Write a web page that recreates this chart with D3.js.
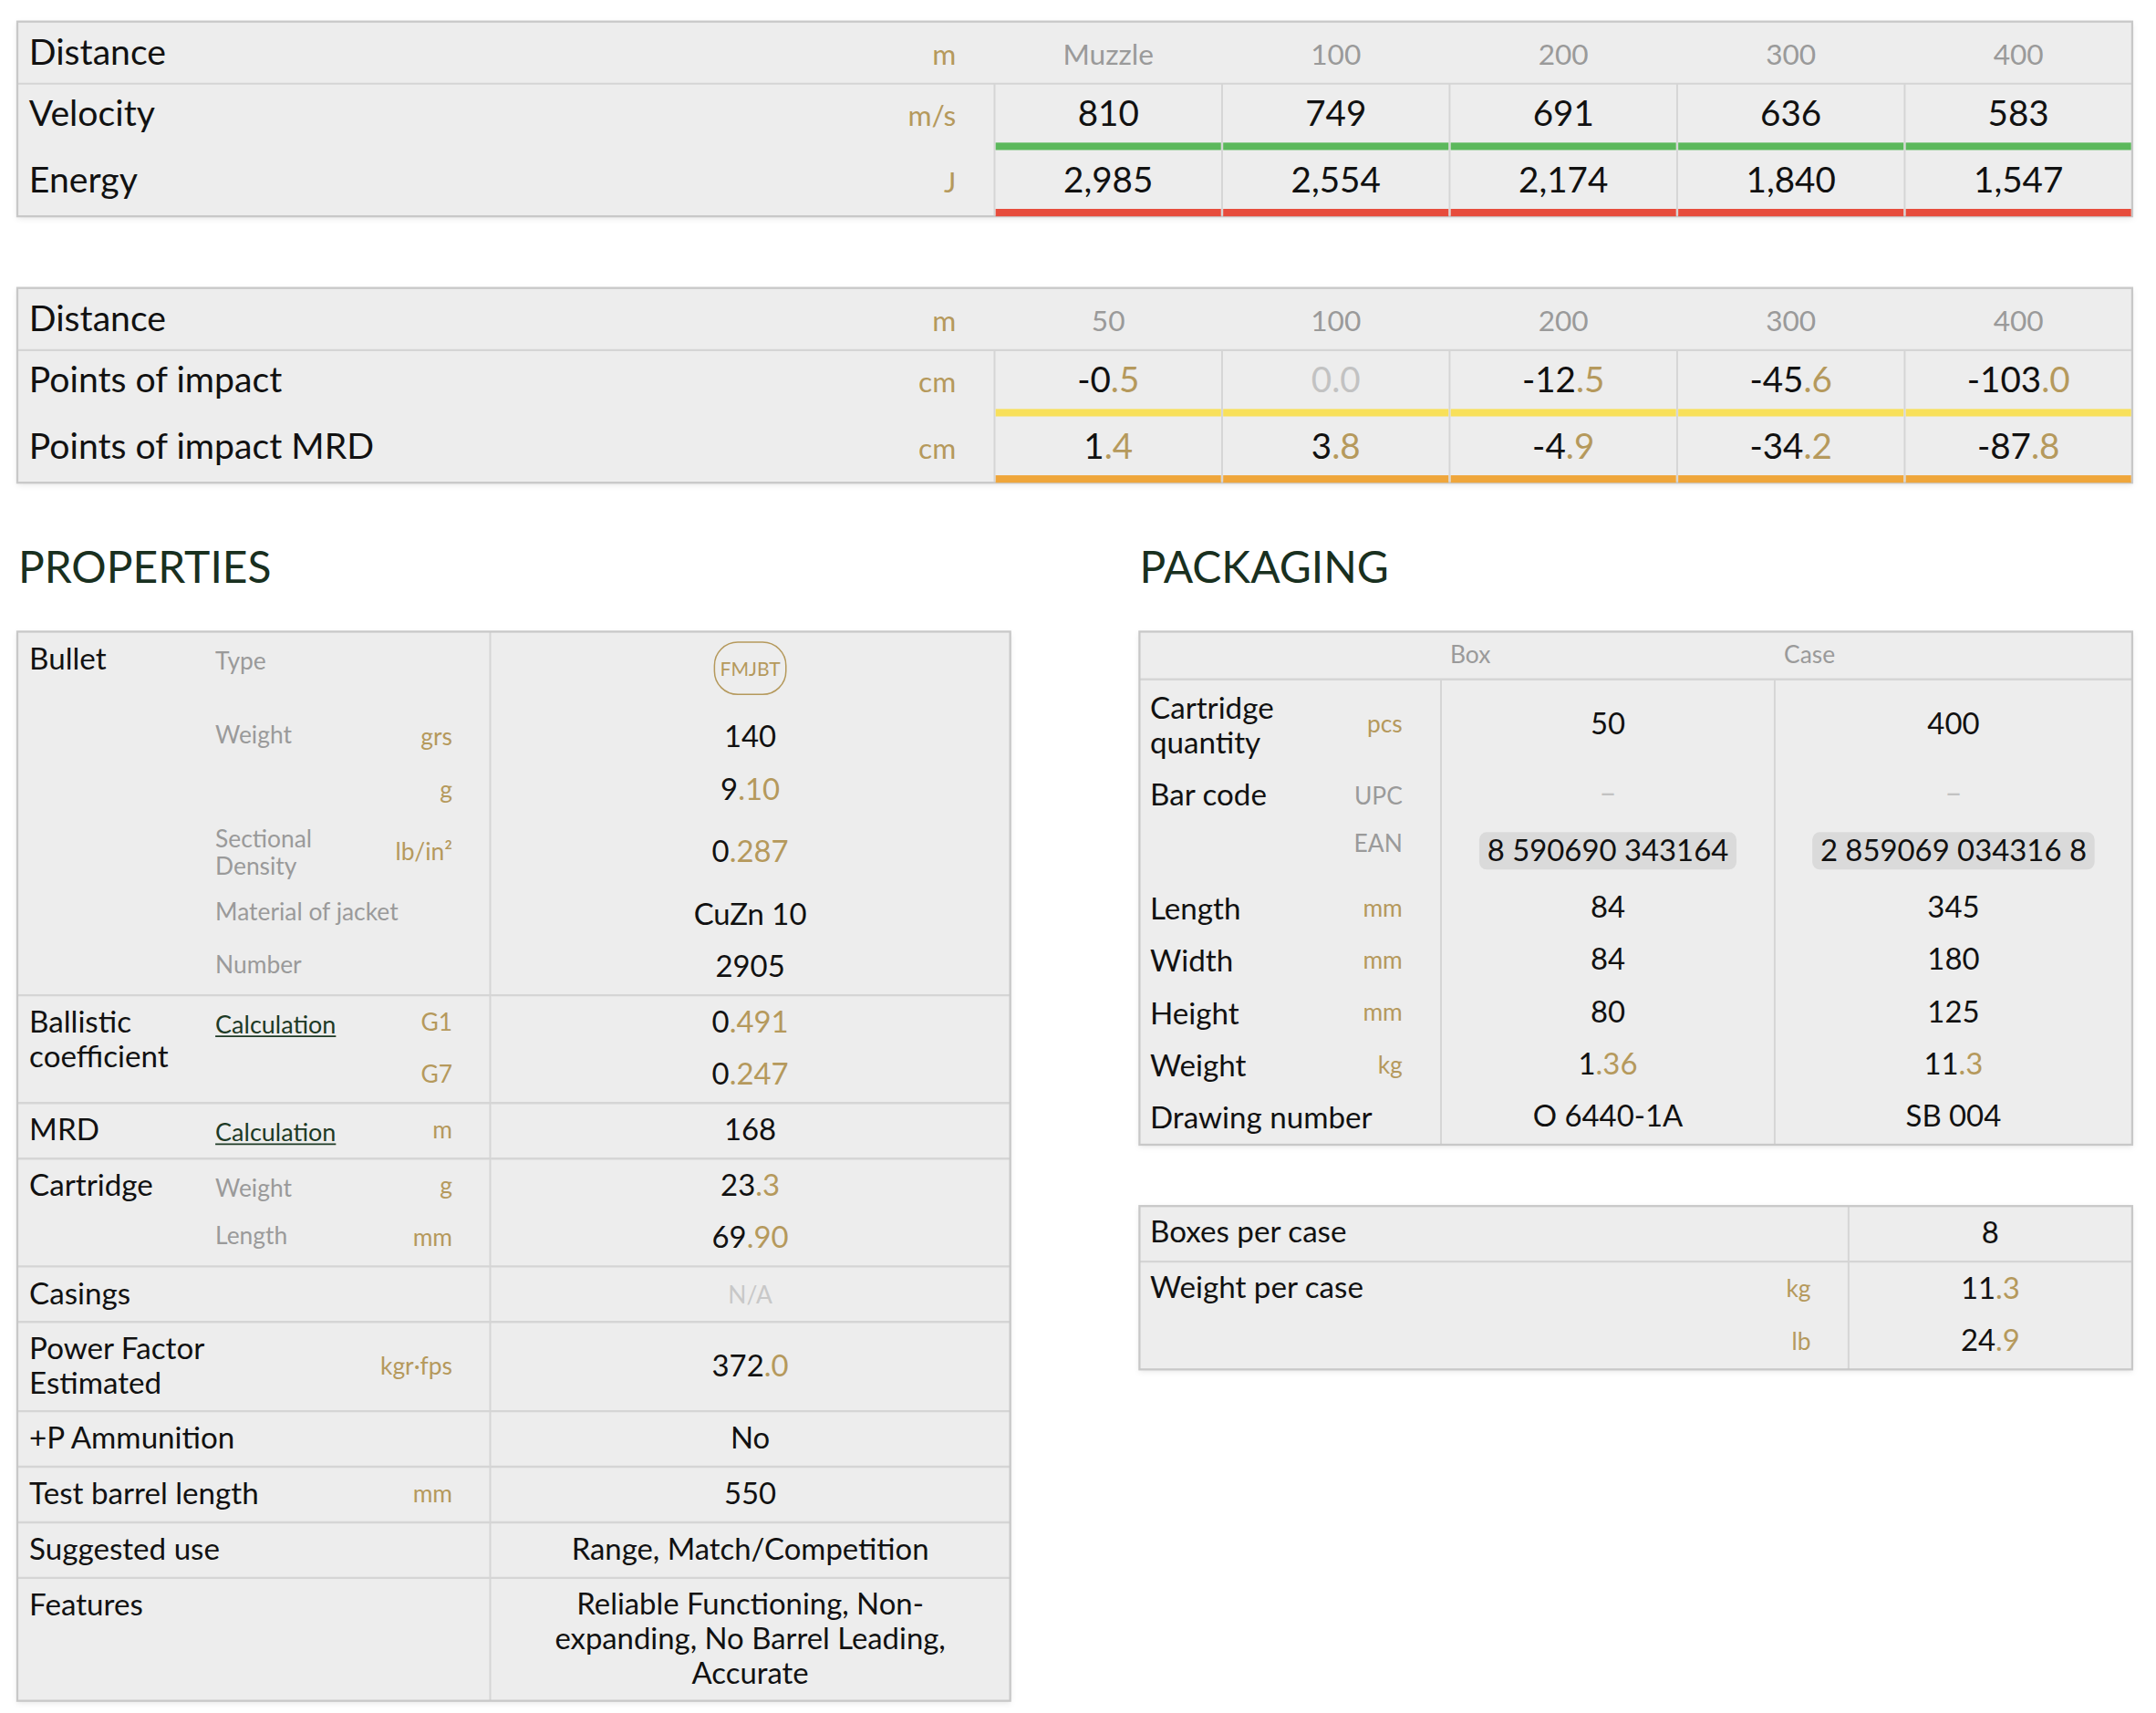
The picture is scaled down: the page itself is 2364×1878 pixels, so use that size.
<!DOCTYPE html>
<html><head><meta charset="utf-8">
<script src="https://cdn.jsdelivr.net/npm/d3@7"></script>
<style>
html,body{margin:0;padding:0;background:#fff;}
svg{display:block;}
text{font-family:Lato,"Open Sans",sans-serif;}
</style>
</head><body>
<script>
// ---------------- DATA ----------------
const ballisticHeader = ["Muzzle","100","200","300","400"];
const velocityValues = [810,749,691,636,583];
const energyValues = [2985,2554,2174,1840,1547];
const impactHeader = ["50","100","200","300","400"];
const impactValues = [-0.5,0.0,-12.5,-45.6,-103.0];
const impactMRDValues = [1.4,3.8,-4.9,-34.2,-87.8];

const propertyGroups = [["Bullet"],["Ballistic","coefficient"],["MRD"],["Cartridge"],["Casings"],["Power Factor","Estimated"],["+P Ammunition"],["Test barrel length"],["Suggested use"],["Features"]];
// [group, sub-label lines, unit, value lines]
const propertyItems = [
  [0,["Type"],"",["FMJBT"]],
  [0,["Weight"],"grs",["140"]],
  [0,[],"g",["9.10"]],
  [0,["Sectional","Density"],"lb/in²",["0.287"]],
  [0,["Material of jacket"],"",["CuZn 10"]],
  [0,["Number"],"",["2905"]],
  [1,["Calculation"],"G1",["0.491"]],
  [1,[],"G7",["0.247"]],
  [2,["Calculation"],"m",["168"]],
  [3,["Weight"],"g",["23.3"]],
  [3,["Length"],"mm",["69.90"]],
  [4,[],"",["N/A"]],
  [5,[],"kgr·fps",["372.0"]],
  [6,[],"",["No"]],
  [7,[],"mm",["550"]],
  [8,[],"",["Range, Match/Competition"]],
  [9,[],"",["Reliable Functioning, Non-","expanding, No Barrel Leading,","Accurate"]]
];
const bulletTypes = ["FMJBT"];
const linkLabels = ["Calculation"];

const packagingColumns = ["Box","Case"];
const packagingLabels = [["Cartridge","quantity"],["Bar code"],[],["Length"],["Width"],["Height"],["Weight"],["Drawing number"]];
const packagingUnits = ["pcs","UPC","EAN","mm","mm","mm","kg",""];
const codeUnits = ["UPC","EAN"];
const boxValues = ["50","–","8 590690 343164","84","84","80","1.36","O 6440-1A"];
const caseValues = ["400","–","2 859069 034316 8","345","180","125","11.3","SB 004"];

const summaryLabels = ["Boxes per case","Weight per case"];
const summaryItems = [[0,"","8"],[1,"kg","11.3"],[1,"lb","24.9"]];

// ---------------- STYLE ----------------
const COL = {bg:"#ededed", border:"#c8c8c8", line:"#d5d5d5", text:"#111", gold:"#b5995c",
  gray:"#9a9a9a", zero:"#c2c2c2", na:"#c8c8c8", green:"#5cb85c", red:"#e74c3c",
  yellow:"#f8e05a", orange:"#efa63b", head:"#19301f", link:"#1d3a25", pill:"#dadada"};
const FS = {big:26, unit:21, head:21, val:25.6, lab:22, sub:17.5, pv:21.8, title:31.8};
const VW = 1568, VH = 1878*1568/2364;

const svg = d3.select("body").append("svg")
  .attr("width",2364).attr("height",1878)
  .attr("viewBox",`0 0 ${VW} ${VH}`);
const defs = svg.append("defs");
defs.append("filter").attr("id","sh").attr("x","-2%").attr("y","-5%").attr("width","104%").attr("height","115%")
  .append("feDropShadow").attr("dx",0).attr("dy",1.5).attr("stdDeviation",2)
  .attr("flood-color","#000").attr("flood-opacity",0.10);

const locale = d3.formatLocale({decimal:".", thousands:",", grouping:[3], currency:["",""], minus:"-"});

function numText(t, s, base){
  const str = String(s);
  const m = /^(-?[\d,]+)(\.\d+)$/.exec(str);
  if (m && +str.replace(/,/g,"") === 0){ t.append("tspan").attr("fill",COL.zero).text(str); return; }
  if (m){ t.append("tspan").attr("fill",base).text(m[1]); t.append("tspan").attr("fill",COL.gold).text(m[2]); }
  else t.append("tspan").attr("fill",base).text(str);
}
function bg(g,x0,y0,x1,y1){
  g.append("rect").attr("x",x0).attr("y",y0).attr("width",x1-x0).attr("height",y1-y0)
    .attr("fill",COL.bg).attr("filter","url(#sh)");
}
function border(g,x0,y0,x1,y1){
  g.append("rect").attr("x",x0).attr("y",y0).attr("width",x1-x0).attr("height",y1-y0)
    .attr("fill","none").attr("stroke",COL.border).attr("stroke-width",1.5);
}
function hline(g,x0,x1,y,c,w){ g.append("line").attr("x1",x0).attr("x2",x1).attr("y1",y).attr("y2",y).attr("stroke",c||COL.line).attr("stroke-width",w||1.4); }
function vline(g,x,y0,y1,c,w){ g.append("line").attr("x1",x).attr("x2",x).attr("y1",y0).attr("y2",y1).attr("stroke",c||COL.line).attr("stroke-width",w||1.3); }

// ---------------- BALLISTIC TABLES ----------------
const TB = {x0:12.6, x1:1550.7, xv:723.3, headH:45.2, rowH:48.2, barH:5.4, gap:52.1, top:15.7};
function ballisticTable(top, header, rows){
  const g = svg.append("g");
  const x = d3.scaleBand().domain(d3.range(header.length)).range([TB.xv, TB.x1]);
  const hb = top + TB.headH;
  const y = d3.scaleBand().domain(d3.range(rows.length)).range([hb, hb + rows.length*TB.rowH]);
  const bottom = y.range()[1];
  bg(g,TB.x0,top,TB.x1,bottom);
  hline(g,TB.x0,TB.x1,hb);
  g.selectAll(".cd").data(d3.range(header.length)).join("line")
    .attr("x1",i=>x(i)).attr("x2",i=>x(i)).attr("y1",hb).attr("y2",bottom)
    .attr("stroke",COL.line).attr("stroke-width",1.3);
  g.append("text").attr("x",TB.x0+8.5).attr("y",top+31.7).attr("font-size",FS.big).attr("fill",COL.text).text("Distance");
  g.append("text").attr("x",TB.xv-28).attr("y",top+31.7).attr("font-size",FS.unit).attr("text-anchor","end").attr("fill",COL.gold).text("m");
  g.selectAll(".hd").data(header).join("text")
    .attr("x",(d,i)=>x(i)+x.bandwidth()/2).attr("y",top+31.7).attr("text-anchor","middle")
    .attr("font-size",FS.head).attr("fill",COL.gray).text(d=>d);
  border(g,TB.x0,top,TB.x1,bottom);
  rows.forEach((r,ri)=>{
    const by = y(ri)+30.9;
    g.append("text").attr("x",TB.x0+8.5).attr("y",by).attr("font-size",FS.big).attr("fill",COL.text).text(r.label);
    g.append("text").attr("x",TB.xv-28).attr("y",by).attr("font-size",FS.unit).attr("text-anchor","end").attr("fill",COL.gold).text(r.unit);
    r.values.forEach((v,i)=>{
      const t = g.append("text").attr("x",x(i)+x.bandwidth()/2).attr("y",by)
        .attr("text-anchor","middle").attr("font-size",FS.val);
      numText(t, r.fmt(v), COL.text);
    });
    g.selectAll(null).data(r.values).join("rect")
      .attr("x",(d,i)=>x(i)+0.8).attr("width",x.bandwidth()-1.6)
      .attr("y",y(ri)+y.bandwidth()-TB.barH).attr("height",TB.barH).attr("fill",r.color);
  });
  return bottom;
}
const fInt = locale.format(",");
const f1 = locale.format(".1f");
const b1 = ballisticTable(TB.top, ballisticHeader, [
  {label:"Velocity", unit:"m/s", values:velocityValues, fmt:fInt, color:COL.green},
  {label:"Energy", unit:"J", values:energyValues, fmt:fInt, color:COL.red}
]);
ballisticTable(b1 + TB.gap, impactHeader, [
  {label:"Points of impact", unit:"cm", values:impactValues, fmt:f1, color:COL.yellow},
  {label:"Points of impact MRD", unit:"cm", values:impactMRDValues, fmt:f1, color:COL.orange}
]);

// ---------------- HEADINGS ----------------
svg.append("text").attr("x",13.2).attr("y",424).attr("font-size",FS.title).attr("fill",COL.head).text("PROPERTIES");
svg.append("text").attr("x",828.7).attr("y",424).attr("font-size",FS.title).attr("fill",COL.head).text("PACKAGING");

// ---------------- PROPERTIES ----------------
const PR = {x0:12.6, x1:734.7, xd:356.5, top:459.3};
(function(){
  const g = svg.append("g");
  let yc = PR.top;
  const groups = [], items = [];
  propertyGroups.forEach((lab,gi)=>{
    const its = propertyItems.filter(d=>d[0]===gi);
    const gTop = yc; let t = gTop + 1.2;
    its.forEach((it,k)=>{
      const [_, sub, unit, val] = it;
      const badge = bulletTypes.includes(val[0]);
      let h = 38 + Math.max(0,sub.length-1)*15 + Math.max(0,val.length-1)*24.5;
      if (its.length===1) h = Math.max(h, 38 + (lab.length-1)*24.5);
      if (badge) h = 57;
      items.push({sub, unit, val, top:t, h, first:k===0, badge});
      t += h;
    });
    yc = t + 1.2;
    groups.push({lab, top:gTop, bottom:yc});
  });
  const bottom = yc;
  bg(g,PR.x0,PR.top,PR.x1,bottom);
  groups.slice(0,-1).forEach(gr=>hline(g,PR.x0,PR.x1,gr.bottom,COL.line,1.6));
  vline(g,PR.xd,PR.top,bottom);
  border(g,PR.x0,PR.top,PR.x1,bottom);
  const xm = (PR.xd+PR.x1)/2;
  groups.forEach(gr=>{
    gr.lab.forEach((l,i)=>g.append("text").attr("x",PR.x0+8.7).attr("y",gr.top+27.3+i*25.1)
      .attr("font-size",FS.lab).attr("fill",COL.text).text(l));
  });
  items.forEach(it=>{
    const c = it.top + it.h/2;
    it.sub.forEach((s,i)=>{
      const yb = it.top + (it.first?26.5:23) + i*19.8;
      const isLink = linkLabels.includes(s);
      const t = g.append("text").attr("x",PR.x0+144).attr("y",yb).attr("font-size",isLink?17.9:FS.sub)
        .attr("fill",isLink?COL.link:COL.gray).text(s);
      if (isLink){
        const w = t.node().getComputedTextLength();
        hline(g,PR.x0+144,PR.x0+144+w,yb+2.2,COL.link,1.1);
      }
    });
    if (it.unit) g.append("text").attr("x",PR.xd-27.5).attr("y",c+5.6).attr("text-anchor","end")
      .attr("font-size",FS.sub).attr("fill",COL.gold).text(it.unit);
    if (it.badge){
      g.append("rect").attr("x",xm-26).attr("y",it.top+6.5).attr("width",52).attr("height",38)
        .attr("rx",17).attr("fill","none").attr("stroke",COL.gold).attr("stroke-width",1);
      g.append("text").attr("x",xm).attr("y",it.top+6.5+24.2).attr("text-anchor","middle")
        .attr("font-size",14).attr("fill",COL.gold).text(it.val[0]);
      return;
    }
    it.val.forEach((v,i)=>{
      const yb = c + 7.0 + (i-(it.val.length-1)/2)*25;
      const na = v === "N/A";
      const t = g.append("text").attr("x",xm).attr("y",yb).attr("text-anchor","middle")
        .attr("font-size",na?17.5:FS.pv);
      numText(t, v, na?COL.na:COL.text);
    });
  });
})();

// ---------------- PACKAGING ----------------
const PK = {x0:828.7, x1:1550.7, c1:1048, c2:1290.7, top:459.3, headH:34.7, gap:44.6};
let pkBottom;
(function(){
  const g = svg.append("g");
  const hb = PK.top + PK.headH;
  let t = hb + 1.2;
  const rows = packagingLabels.map((lab,i)=>{
    const code = codeUnits.includes(packagingUnits[i]);
    const pill = code && boxValues[i] !== "–";
    const h = pill ? 45 : 38 + Math.max(0,lab.length-1)*25;
    const r = {lab, unit:packagingUnits[i], code, pill, vals:[boxValues[i],caseValues[i]], top:t, h};
    t += h; return r;
  });
  const bottom = t + 1.2;
  pkBottom = bottom;
  bg(g,PK.x0,PK.top,PK.x1,bottom);
  hline(g,PK.x0,PK.x1,hb,COL.line,1.6);
  vline(g,PK.c1,hb,bottom); vline(g,PK.c2,hb,bottom);
  border(g,PK.x0,PK.top,PK.x1,bottom);
  const hx = d3.scaleOrdinal().domain(packagingColumns).range([1069.3,1316]);
  g.selectAll(".ph").data(packagingColumns).join("text")
    .attr("x",d=>hx(d)).attr("y",PK.top+23.1).attr("text-anchor","middle")
    .attr("font-size",FS.sub).attr("fill",COL.gray).text(d=>d);
  const cx = [ (PK.c1+PK.c2)/2, (PK.c2+PK.x1)/2 ];
  rows.forEach(r=>{
    const c = r.top + r.h/2;
    r.lab.forEach((l,i)=>g.append("text").attr("x",PK.x0+7.7).attr("y",r.top+27.5+i*25.2)
      .attr("font-size",FS.lab).attr("fill",COL.text).text(l));
    if (r.unit){
      const uy = r.code ? r.top + (r.pill?23.3:26.8) : c+6.2;
      g.append("text").attr("x",PK.c1-28).attr("y",uy).attr("text-anchor","end")
        .attr("font-size",FS.sub).attr("fill",r.code?COL.gray:COL.gold).text(r.unit);
    }
    r.vals.forEach((v,i)=>{
      if (r.pill){
        const tmp = g.append("text").attr("font-size",FS.pv).attr("opacity",0).text(v);
        const w = tmp.node().getComputedTextLength(); tmp.remove();
        g.append("rect").attr("x",cx[i]-w/2-5.8).attr("y",c-13.65).attr("width",w+11.6).attr("height",27.3)
          .attr("rx",5.5).attr("fill",COL.pill);
      }
      const dash = v === "–";
      const t2 = g.append("text").attr("x",cx[i]).attr("y",c+7.2).attr("text-anchor","middle")
        .attr("font-size",FS.pv);
      numText(t2, v, dash?COL.zero:COL.text);
    });
  });
})();

// ---------------- SUMMARY ----------------
(function(){
  const SM = {x0:PK.x0, x1:PK.x1, xd:1344.4, top:pkBottom + PK.gap};
  const g = svg.append("g");
  let yc = SM.top; const groups=[], items=[];
  summaryLabels.forEach((lab,gi)=>{
    const its = summaryItems.filter(d=>d[0]===gi);
    const gTop = yc; let t = gTop + 1.2;
    its.forEach(it=>{ items.push({unit:it[1], val:it[2], top:t, h:38}); t += 38; });
    yc = t + 1.2; groups.push({lab, top:gTop, bottom:yc});
  });
  const bottom = yc;
  bg(g,SM.x0,SM.top,SM.x1,bottom);
  groups.slice(0,-1).forEach(gr=>hline(g,SM.x0,SM.x1,gr.bottom,COL.line,1.6));
  vline(g,SM.xd,SM.top,bottom);
  border(g,SM.x0,SM.top,SM.x1,bottom);
  groups.forEach(gr=>g.append("text").attr("x",SM.x0+7.7).attr("y",gr.top+26.5)
    .attr("font-size",FS.lab).attr("fill",COL.text).text(gr.lab));
  const xm = (SM.xd+SM.x1)/2;
  items.forEach(it=>{
    const c = it.top + it.h/2;
    if (it.unit) g.append("text").attr("x",SM.xd-27.4).attr("y",c+5.8).attr("text-anchor","end")
      .attr("font-size",FS.sub).attr("fill",COL.gold).text(it.unit);
    const t = g.append("text").attr("x",xm).attr("y",c+7).attr("text-anchor","middle").attr("font-size",FS.pv);
    numText(t, it.val, COL.text);
  });
})();
</script>
</body></html>
